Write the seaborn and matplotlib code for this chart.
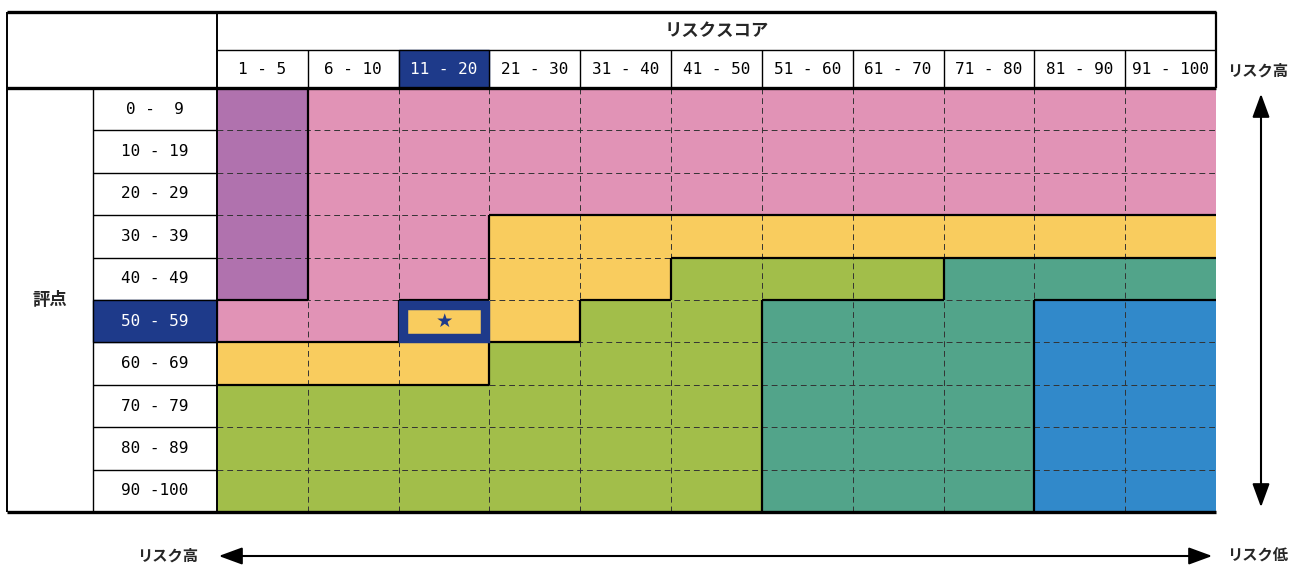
import numpy as np
import matplotlib
matplotlib.use("Agg")
import matplotlib.pyplot as plt
from matplotlib.colors import ListedColormap
from matplotlib.patches import Rectangle
import seaborn as sns

sns.set_theme(style="white")
plt.rcParams['font.family'] = ['Noto Sans CJK JP', 'DejaVu Sans']

# data
col_labels = ["1 - 5", "6 - 10", "11 - 20", "21 - 30", "31 - 40", "41 - 50",
              "51 - 60", "61 - 70", "71 - 80", "81 - 90", "91 - 100"]
row_labels = ["0 -  9", "10 - 19", "20 - 29", "30 - 39", "40 - 49",
              "50 - 59", "60 - 69", "70 - 79", "80 - 89", "90 -100"]
# 0 purple, 1 pink, 2 yellow, 3 green, 4 teal, 5 blue
zones = [
    [0, 1, 1, 1, 1, 1, 1, 1, 1, 1, 1],
    [0, 1, 1, 1, 1, 1, 1, 1, 1, 1, 1],
    [0, 1, 1, 1, 1, 1, 1, 1, 1, 1, 1],
    [0, 1, 1, 2, 2, 2, 2, 2, 2, 2, 2],
    [0, 1, 1, 2, 2, 3, 3, 3, 4, 4, 4],
    [1, 1, 2, 2, 3, 3, 4, 4, 4, 5, 5],
    [2, 2, 2, 3, 3, 3, 4, 4, 4, 5, 5],
    [3, 3, 3, 3, 3, 3, 4, 4, 4, 5, 5],
    [3, 3, 3, 3, 3, 3, 4, 4, 4, 5, 5],
    [3, 3, 3, 3, 3, 3, 4, 4, 4, 5, 5],
]
zone_colors = ["#B072AE", "#E193B6", "#F9CC5E", "#A2BE4A", "#52A48A", "#3189CA"]
hl_col = "11 - 20"
hl_row = "50 - 59"
title = "リスクスコア"
row_title = "評点"
navy = "#1E3A8A"

Z = np.array(zones)
nr, nc = Z.shape
ci = col_labels.index(hl_col)
ri = row_labels.index(hl_row)

W, H = 1301, 565
fig = plt.figure(figsize=(W / 100, H / 100), dpi=100)
gx0, gx1, gy0, gy1 = 217, 1216, 88, 512
ax = fig.add_axes([gx0 / W, 1 - gy1 / H, (gx1 - gx0) / W, (gy1 - gy0) / H])

sns.heatmap(Z, cmap=ListedColormap(zone_colors), vmin=-0.5, vmax=5.5,
            cbar=False, ax=ax, xticklabels=False, yticklabels=False,
            linewidths=0)
ax.set_axis_off()

cw = (gx1 - gx0) / nc
rh = (gy1 - gy0) / nr
def px(x):
    return (x - gx0) / cw
def py(y):
    return (y - gy0) / rh

kw = dict(clip_on=False)
dash = dict(color="#333333", lw=0.7, linestyle=(0, (6, 4)), **kw)
solid = dict(color="black", lw=1.6, **kw)
mono = ['DejaVu Sans Mono']

# dashed grid inside
for j in range(1, nc):
    ax.vlines(j, 0, nr, **dash)
for i in range(1, nr):
    ax.hlines(i, 0, nc, **dash)

# zone boundaries
for i in range(nr):
    for j in range(nc - 1):
        if Z[i, j] != Z[i, j + 1]:
            ax.vlines(j + 1, i, i + 1, **solid, zorder=3)
for i in range(nr - 1):
    for j in range(nc):
        if Z[i, j] != Z[i + 1, j]:
            ax.hlines(i + 1, j, j + 1, **solid, zorder=3)

# highlighted cell
ax.add_patch(Rectangle((ci + 4.5 / cw, ri + 4.5 / rh), 1 - 9 / cw, 1 - 9 / rh,
                       fill=False, ec=navy, lw=6.8, zorder=6, **kw))
ax.text(ci + 0.5, ri + 0.5, "★", color=navy, fontsize=14, ha="center",
        va="center", family=['DejaVu Sans'], zorder=7)

# header table
top, mid = py(12), py(50)
left, lab = px(7), px(93)
ax.add_patch(Rectangle((ci, mid), 1, -mid, color=navy, zorder=1, **kw))
ax.add_patch(Rectangle((lab, ri), -lab, 1, color=navy, zorder=1, **kw))

for j, lbl in enumerate(col_labels):
    ax.text(j + 0.5, (mid + 0) / 2, lbl, ha="center", va="center", fontsize=11.5,
            family=mono, color="white" if j == ci else "black", **kw)
    if j > 0:
        ax.vlines(j, mid, 0, color="black", lw=1.0, **kw)
for i, lbl in enumerate(row_labels):
    ax.text((lab + 0) / 2, i + 0.5, lbl, ha="center", va="center", fontsize=11.5,
            family=mono, color="white" if i == ri else "black", **kw)
    if i > 0:
        ax.hlines(i, lab, 0, color="black", lw=1.0, **kw)

ax.text(nc / 2, (top + mid) / 2, title, ha="center", va="center", fontsize=12.5,
        fontweight="bold", **kw)
ax.text((left + lab) / 2, nr / 2, row_title, ha="center", va="center",
        fontsize=12.5, fontweight="bold", **kw)

ax.hlines(top, left, nc, color="black", lw=2.4, **kw)
ax.hlines(0, left, nc, color="black", lw=2.4, zorder=3, **kw)
ax.hlines(nr, left, nc, color="black", lw=2.4, zorder=3, **kw)
ax.hlines(mid, 0, nc, color="black", lw=1.0, **kw)
ax.vlines(left, top, nr, color="black", lw=1.4, **kw)
ax.vlines(0, top, nr, color="black", lw=1.4, zorder=3, **kw)
ax.vlines(lab, 0, nr, color="black", lw=1.0, **kw)
ax.vlines(nc, top, 0, color="black", lw=1.6, **kw)

# risk arrows
arr = dict(arrowstyle="<|-|>,head_length=0.9,head_width=0.33", color="black",
           lw=1.5, mutation_scale=16)
ax.annotate("", xy=(px(1261), py(91)), xytext=(px(1261), py(510)),
            arrowprops=arr, annotation_clip=False)
ax.annotate("", xy=(px(216), py(556)), xytext=(px(1215), py(556)),
            arrowprops=arr, annotation_clip=False)
ax.text(px(1258), py(71), "リスク高", ha="center", va="center", fontsize=11,
        fontweight="bold", **kw)
ax.text(px(168), py(556), "リスク高", ha="center", va="center", fontsize=11,
        fontweight="bold", **kw)
ax.text(px(1258), py(556), "リスク低", ha="center", va="center", fontsize=11,
        fontweight="bold", **kw)

fig.savefig("out.png", dpi=100)
